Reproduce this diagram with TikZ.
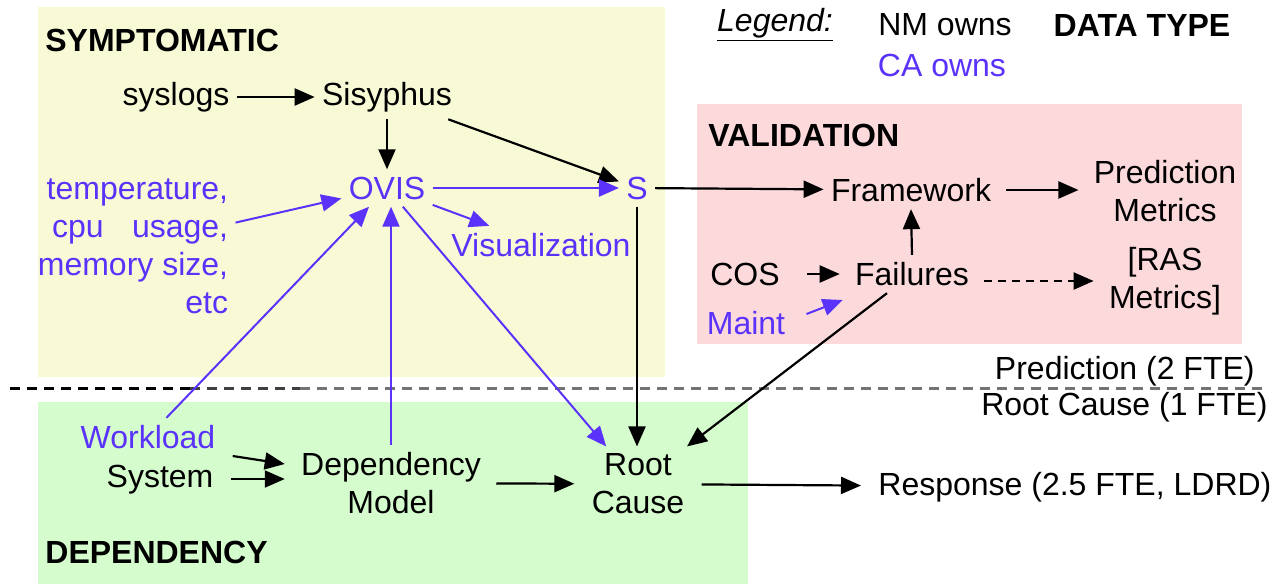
\documentclass[tikz,border=0pt]{standalone}
\usepackage{fontspec}
\setmainfont{Liberation Sans}
\usetikzlibrary{arrows.meta,calc}
\definecolor{cablue}{RGB}{90,50,250}
\definecolor{yellowbg}{RGB}{248,250,214}
\definecolor{pinkbg}{RGB}{252,217,219}
\definecolor{greenbg}{RGB}{212,252,204}
\begin{document}
\begin{tikzpicture}[x=0.5pt,y=-0.5pt,
  font=\fontsize{16}{19}\selectfont,
  lbl/.style={inner sep=3.5pt, align=center},
  ca/.style={text=cablue},
  head/.style={font=\fontsize{16}{19}\selectfont\bfseries, anchor=west, inner sep=0pt},
  arr/.style={-{Triangle[length=10pt,width=8.5pt]}, line width=1.1pt},
  carr/.style={arr, draw=cablue, line width=1pt},
  divider/.style={line width=1.5pt, dash pattern=on 5pt off 3.5pt},
]
\useasboundingbox (0,0) rectangle (1272,584);
% region backgrounds
\fill[yellowbg] (38,7) rectangle (665,377);
\fill[pinkbg] (697,104) rectangle (1242,344);
\fill[greenbg] (38,402) rectangle (748,584);

% headings
\node[head] (hsym) at (45,40) {SYMPTOMATIC};
\node[head] (hval) at (708,135) {VALIDATION};
\node[head] (hdep) at (45,552) {DEPENDENCY};

% legend
\node[lbl] (legend) at (775,25) {\underline{\itshape Legend:}};
\node[lbl] (nmowns) at (945,25) {NM owns};
\node[lbl, ca] (caowns) at (942,65) {CA owns};
\node[lbl, font=\fontsize{16}{19}\selectfont\bfseries] (dtype) at (1142,25) {DATA TYPE};

% symptomatic nodes
\node[lbl] (syslogs) at (176,97) {syslogs};
\node[lbl] (sisyphus) at (387,97) {Sisyphus};
\node[lbl, ca] (ovis) at (387,188) {OVIS};
\node[lbl, ca] (s) at (637,188) {S};
\node[lbl, ca] (vis) at (541,245) {Visualization};
\node[inner sep=3.5pt, ca, align=right] (temp) at (133,246)
  {temperature,\\\makebox[88pt]{cpu\hfill usage,}\\memory size,\\etc};

% validation nodes
\node[lbl] (framework) at (911,190) {Framework};
\node[lbl] (predm) at (1165,191) {Prediction\\Metrics};
\node[lbl] (failures) at (912,274) {Failures};
\node[lbl] (cos) at (745,274) {COS};
\node[lbl, ca] (maint) at (746,323) {Maint};
\node[lbl] (ras) at (1165,281) {[RAS\\Metrics]};

% dependency nodes
\node[lbl, ca] (workload) at (148,437) {Workload};
\node[lbl] (system) at (160,480) {System};
\node[lbl] (dm) at (391,483) {Dependency\\Model};
\node[lbl] (rc) at (638,484) {Root\\Cause};
\node[lbl, anchor=west] (response) at (871,487) {Response (2.5 FTE, LDRD)};

% divider
\draw[divider] (10,388) -- (190,388);
\draw[divider, draw=black!75] (190,388) -- (300,388);
\draw[divider, draw=black!55] (300,388) -- (1265,388);
\node[inner sep=0pt, anchor=east] (pred) at (1255,371) {Prediction (2 FTE)};
\node[inner sep=0pt, anchor=east] (rootc) at (1268,407) {Root Cause (1 FTE)};

% connectors: symptomatic
\draw[arr] (syslogs) -- (sisyphus);
\draw[arr] (sisyphus.south) -- (sisyphus.south |- ovis.north);
\draw[arr] (sisyphus) -- (s);
\draw[carr] (ovis) -- (s);
\draw[carr] (temp) -- (ovis);
\draw[carr] (ovis) -- (vis);
\draw[carr] (workload) -- (ovis);
\draw[carr] (dm.north) -- (dm.north |- ovis.south);
\draw[carr] (ovis) -- (rc);
\draw[arr] (s.south) -- (s.south |- rc.north);

% connectors: validation
\draw[arr] (s) -- (framework);
\draw[arr, shorten <=4pt, shorten >=4pt] (framework) -- (predm.west |- framework.east);
\draw[arr] (failures.north) -- (framework.south);
\draw[arr, shorten <=10pt, shorten >=4pt] (cos) -- (failures);
\draw[carr] ($(maint.east)+(14,-9)$) -- ($(failures.west)+(-5,26)$);
\draw[arr, dash pattern=on 4pt off 3pt, shorten <=4pt, shorten >=4pt] (failures.east |- ras.west) -- (ras.west);
\draw[arr] (failures) -- (rc);

% connectors: dependency
\draw[arr] ($(workload.east)+(10,19)$) -- ($(dm.west)+(-9,-19)$);
\draw[arr] ($(system.east)+(10,-1)$) -- ($(dm.west)+(-9,-4)$);
\draw[arr, shorten <=4pt, shorten >=5pt] (dm) -- (rc);
\draw[arr, shorten <=5pt, shorten >=5pt] (rc) -- (response);
\end{tikzpicture}
\end{document}
